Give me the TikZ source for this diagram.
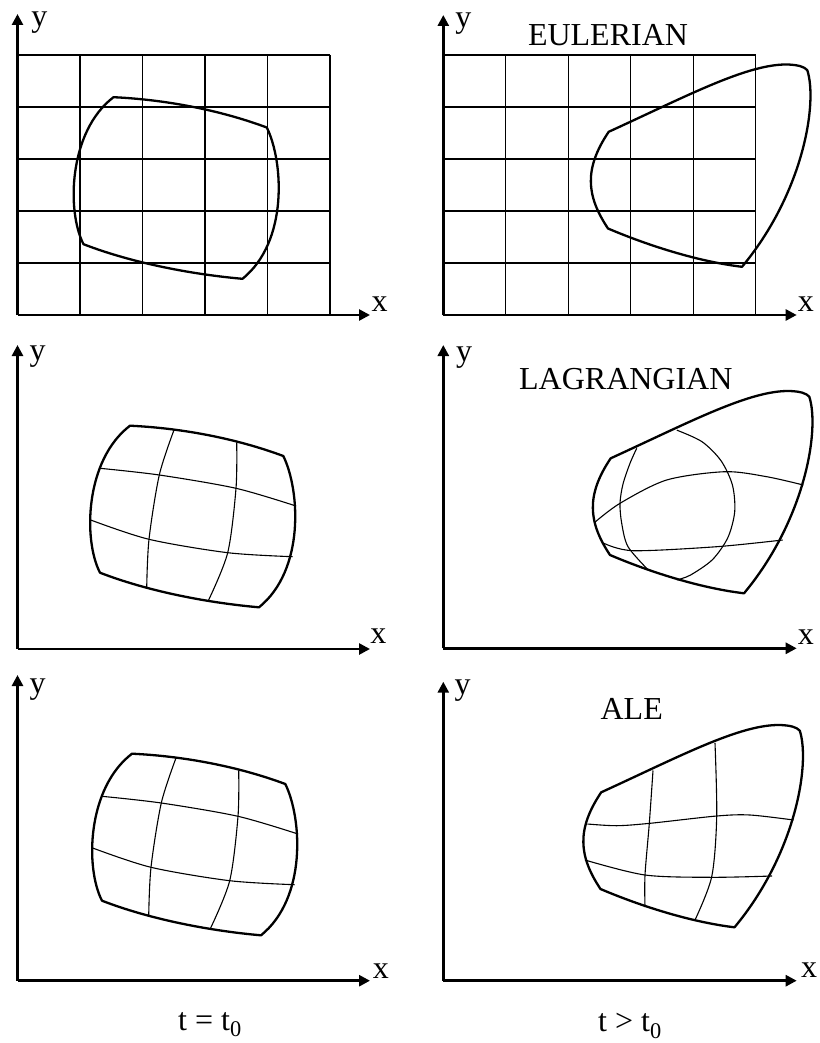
\documentclass[tikz,border=0pt]{standalone}
\usepackage{fontspec}
\setmainfont{Liberation Serif}
\usetikzlibrary{arrows.meta}

\newcommand{\initoutline}{%
  \draw[outline] (130,425.7) .. controls (180,428) and (235,438) .. (283.3,456)
    .. controls (300,490) and (305,570) .. (259,607.3)
    .. controls (210,603) and (150,592) .. (100,572.7)
    .. controls (83,540) and (85,460) .. cycle;}
\newcommand{\initmesh}{%
  \draw[meshline] plot[smooth] coordinates {(174,430) (159.3,475) (149,539.3) (146.7,588.3)};
  \draw[meshline] plot[smooth] coordinates {(236.7,442.3) (236,488.3) (227.7,552.7) (208.3,600.7)};
  \draw[meshline] plot[smooth] coordinates {(100,468.3) (159.3,475) (236,488.3) (296,506)};
  \draw[meshline] plot[smooth] coordinates {(90.7,520) (149,539.3) (227.7,552.7) (292.7,556.7)};}
\newcommand{\movedoutline}{%
  \draw[outline] (610.7,458.3) .. controls (690,422) and (750,390) .. (790,391)
    .. controls (800,391.5) and (806,393) .. (809.3,396.7)
    .. controls (820,430) and (805,520) .. (744,593.3)
    .. controls (700,588) and (650,572) .. (610,555)
    .. controls (588,522) and (586,495) .. cycle;}
\newcommand{\lagmesh}{%
  \draw[meshline] plot[smooth] coordinates {(676.7,430.1) (702,441.7) (721,460.7) (732.4,485) (734.7,511.7)
    (727.8,537.7) (712.4,559.7) (690.4,575.1) (676.9,579.9)};
  \draw[meshline] plot[smooth] coordinates {(636.7,448.3) (630,463.3) (623,484) (620,503.3) (621.7,523.3)
    (628,546.7) (648.3,570)};
  \draw[meshline] plot[smooth] coordinates {(594.3,522.7) (620,503.3) (666.7,480) (725,471.7) (766.7,476.7) (803.3,485)};
  \draw[meshline] plot[smooth] coordinates {(604,543.3) (633.3,550.7) (716.7,546.7) (782.7,540)};}
\newcommand{\alemesh}{%
  \draw[meshline] plot[smooth] coordinates {(662.5,436.5) (658.8,489.3) (654.5,541) (654.5,573)};
  \draw[meshline] plot[smooth] coordinates {(724.5,409) (726.2,482.7) (721.2,542.7) (704.5,586)};
  \draw[meshline] plot[smooth] coordinates {(597,490) (626.2,491.7) (659.5,489.3) (726.2,482) (759.5,481) (803,486)};
  \draw[meshline] plot[smooth] coordinates {(594.5,526) (654.5,541) (721.2,543.3) (781.5,542)};}

\begin{document}
\begin{tikzpicture}[x=1pt, y=-1pt,
  every node/.style={font=\fontsize{32}{38}\selectfont, inner sep=0pt},
  axis/.style={-{Triangle[length=11pt, width=11pt]}, line width=2.6pt},
  outline/.style={line width=2.3pt, line join=round},
  gridline/.style={line width=1.2pt},
  meshline/.style={line width=1.1pt}
]
\useasboundingbox (0,0) rectangle (819,1043);

\foreach \i in {0,...,5} {
  \draw[gridline] (17.5+62.5*\i,55) -- (17.5+62.5*\i,315);
  \draw[gridline] (17.5,55+52*\i) -- (330,55+52*\i);
  \draw[gridline] (443.3+62.5*\i,55) -- (443.3+62.5*\i,315);
  \draw[gridline] (443.3,55+52*\i) -- (755.8,55+52*\i);
}

\coordinate (tlO) at (17.5,315);
\coordinate (trO) at (443.3,315);
\coordinate (mlO) at (17.5,649);
\coordinate (mrO) at (443.3,648.3);
\coordinate (blO) at (17.5,980.7);
\coordinate (brO) at (443.3,980.7);

\draw[axis] (tlO) -- (17.5,14);
\draw[axis] (tlO) -- (370,315);
\draw[axis] (trO) -- (443.3,15);
\draw[axis] (trO) -- (796.7,315);
\draw[axis] (mlO) -- (17.5,345);
\draw[axis] (mlO) -- (370,649);
\draw[axis] (mrO) -- (443.3,345);
\draw[axis] (mrO) -- (796.7,648.3);
\draw[axis] (blO) -- (17.5,675);
\draw[axis] (blO) -- (370,980.7);
\draw[axis] (brO) -- (443.3,681.7);
\draw[axis] (brO) -- (796.7,980.7);

\node (tlY) at (39.3,22.5) {y};
\node (tlX) at (379.7,304) {x};
\node (trY) at (463.3,23.3) {y};
\node (trX) at (805.8,304) {x};
\node (mlY) at (37.5,357) {y};
\node (mlX) at (378.3,635.8) {x};
\node (mrY) at (464.2,357.5) {y};
\node (mrX) at (805.8,637.5) {x};
\node (blY) at (37.5,690) {y};
\node (blX) at (380.8,970.8) {x};
\node (brY) at (462.5,690.8) {y};
\node (brX) at (809.2,970) {x};

\node (eulerian) at (608,35) {EULERIAN};
\node (lagrangian) at (625.8,379.2) {LAGRANGIAN};
\node (ale) at (631.7,708.8) {ALE};
\node[anchor=base] (tzero) at (210,1030) {t = t\textsubscript{0}};
\node[anchor=base] (tlater) at (630,1031.7) {t > t\textsubscript{0}};

\begin{scope}[shift={(-16.5,-328.5)}]
  \initoutline
\end{scope}
\initmesh
\initoutline
\begin{scope}[shift={(2,328)}]
  \initmesh
  \initoutline
\end{scope}

\begin{scope}[shift={(-2,-326.5)}]
  \movedoutline
\end{scope}
\lagmesh
\movedoutline
\begin{scope}[shift={(-9.5,334)}]
  \alemesh
  \movedoutline
\end{scope}
\end{tikzpicture}
\end{document}
